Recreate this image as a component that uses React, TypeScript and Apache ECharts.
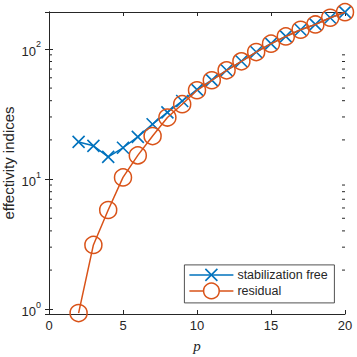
import React, { useEffect, useRef } from "react";
import * as echarts from "echarts";

const pValues = [2, 3, 4, 5, 6, 7, 8, 9, 10, 11, 12, 13, 14, 15, 16, 17, 18, 19, 20];
const stabilizationFree = [19.3, 18.0, 14.8, 17.4, 21.1, 26.4, 32.5, 39.8, 48.7, 57.6, 68.5, 80.3, 94.6, 109.7, 124.7, 140.4, 154.2, 173.5, 191.4];
const residual = [0.935, 3.12, 5.79, 10.3, 15.2, 21.4, 29.7, 37.6, 48.1, 57.4, 68.4, 80.2, 94.5, 109.6, 124.6, 140.3, 154.0, 173.4, 191.4];
const minorTickValues = [2, 3, 4, 5, 6, 7, 8, 9, 20, 30, 40, 50, 60, 70, 80, 90];
const seriesNames = ["stabilization free", "residual"];

const BLUE = "#0072BD";
const ORANGE = "#D95319";
const AX = "#262626";
const FONT = "Liberation Sans, Arial, sans-serif";

export default function App() {
  const ref = useRef<HTMLDivElement>(null);
  useEffect(() => {
    if (!ref.current) return;
    const chart = echarts.init(ref.current, null, { renderer: "svg" });
    const xMin = 0, xMax = 20, yMin = 0.92, yMax = 192;
    const common = {
      axisLine: { lineStyle: { color: AX, width: 1 } },
      splitLine: { show: false },
    };
    chart.setOption({
      animation: false,
      textStyle: { fontFamily: FONT },
      grid: { left: 49, top: 12, width: 296, height: 302, containLabel: false, outerBoundsMode: "none" },
      xAxis: [
        {
          ...common,
          type: "value", min: xMin, max: xMax, interval: 5, position: "bottom",
          axisTick: { inside: true, length: 4, lineStyle: { color: AX } },
          axisLabel: { color: AX, fontSize: 13, margin: 5, fontFamily: FONT },
          name: "p", nameLocation: "middle", nameGap: 24, nameMoveOverlap: false,
          nameTextStyle: { fontStyle: "italic", fontFamily: "Liberation Serif, serif", fontSize: 15, color: AX },
        },
        {
          ...common,
          type: "value", min: xMin, max: xMax, interval: 5, position: "top",
          axisTick: { inside: true, length: 4, lineStyle: { color: AX } },
          axisLabel: { show: false },
        },
      ],
      yAxis: [
        {
          ...common,
          type: "log", min: yMin, max: yMax, logBase: 10, position: "left",
          axisTick: { inside: true, length: 4, lineStyle: { color: AX } },
          axisLabel: {
            showMinLabel: false, showMaxLabel: false, margin: 8,
            formatter: (v: number) => `{b|10}{s|${Math.round(Math.log10(v))}}`,
            rich: {
              b: { fontSize: 13, color: AX, fontFamily: FONT, lineHeight: 18, verticalAlign: "bottom" },
              s: { fontSize: 9, color: AX, fontFamily: FONT, lineHeight: 10, verticalAlign: "top" },
            },
          },
          name: "effectivity indices", nameLocation: "middle", nameGap: 33, nameMoveOverlap: false,
          nameTextStyle: { fontSize: 15, color: AX, fontFamily: FONT },
        },
        {
          ...common,
          type: "log", min: yMin, max: yMax, logBase: 10, position: "right",
          axisTick: { inside: true, length: 4, lineStyle: { color: AX } },
          axisLabel: { show: false },
        },
      ],
      series: [
        {
          type: "custom",
          xAxisIndex: 0, yAxisIndex: 0, silent: true, z: 1,
          clip: false,
          data: minorTickValues.map((v) => [xMin, v]),
          renderItem: (params: any, api: any) => {
            const l = api.coord([xMin, api.value(1)]);
            const r = api.coord([xMax, api.value(1)]);
            return {
              type: "group",
              children: [
                { type: "line", shape: { x1: l[0], y1: l[1], x2: l[0] + 3, y2: l[1] }, style: { stroke: AX, lineWidth: 1 } },
                { type: "line", shape: { x1: r[0] - 3, y1: r[1], x2: r[0], y2: r[1] }, style: { stroke: AX, lineWidth: 1 } },
              ],
            };
          },
        },
        {
          name: seriesNames[0],
          type: "line",
          data: pValues.map((p, i) => [p, stabilizationFree[i]]),
          symbol: "path://M0,0L10,10M10,0L0,10",
          symbolSize: 12,
          lineStyle: { color: BLUE, width: 1.5 },
          itemStyle: { color: BLUE, borderColor: BLUE, borderWidth: 1.6 },
          z: 2,
        },
        {
          name: seriesNames[1],
          type: "line",
          data: pValues.map((p, i) => [p, residual[i]]),
          symbol: "circle",
          symbolSize: 17,
          lineStyle: { color: ORANGE, width: 1.5 },
          itemStyle: { color: "transparent", borderColor: ORANGE, borderWidth: 1.5 },
          z: 3,
        },
      ],
      graphic: [
        {
          type: "group", left: 184, top: 264.5,
          children: [
            { type: "rect", shape: { x: 0, y: 0, width: 150, height: 38 }, style: { fill: "#fff", stroke: AX, lineWidth: 0.8 } },
            { type: "line", shape: { x1: 5, y1: 10, x2: 49, y2: 10 }, style: { stroke: BLUE, lineWidth: 1.5 } },
            { type: "line", shape: { x1: 21, y1: 4, x2: 33, y2: 16 }, style: { stroke: BLUE, lineWidth: 1.6 } },
            { type: "line", shape: { x1: 33, y1: 4, x2: 21, y2: 16 }, style: { stroke: BLUE, lineWidth: 1.6 } },
            { type: "line", shape: { x1: 5, y1: 26, x2: 49, y2: 26 }, style: { stroke: ORANGE, lineWidth: 1.5 } },
            { type: "circle", shape: { cx: 27, cy: 26, r: 7.8 }, style: { fill: "#fff", stroke: ORANGE, lineWidth: 1.5 } },
            { type: "text", x: 53, y: 10, style: { text: seriesNames[0], fontSize: 12.5, fontFamily: FONT, fill: AX, textVerticalAlign: "middle", textAlign: "left" } },
            { type: "text", x: 53, y: 26, style: { text: seriesNames[1], fontSize: 12.5, fontFamily: FONT, fill: AX, textVerticalAlign: "middle", textAlign: "left" } },
          ],
        },
      ],
    });
    return () => chart.dispose();
  }, []);
  return <div ref={ref} style={{ width: 357, height: 357, position: "absolute", left: 0, top: 0 }} />;
}
